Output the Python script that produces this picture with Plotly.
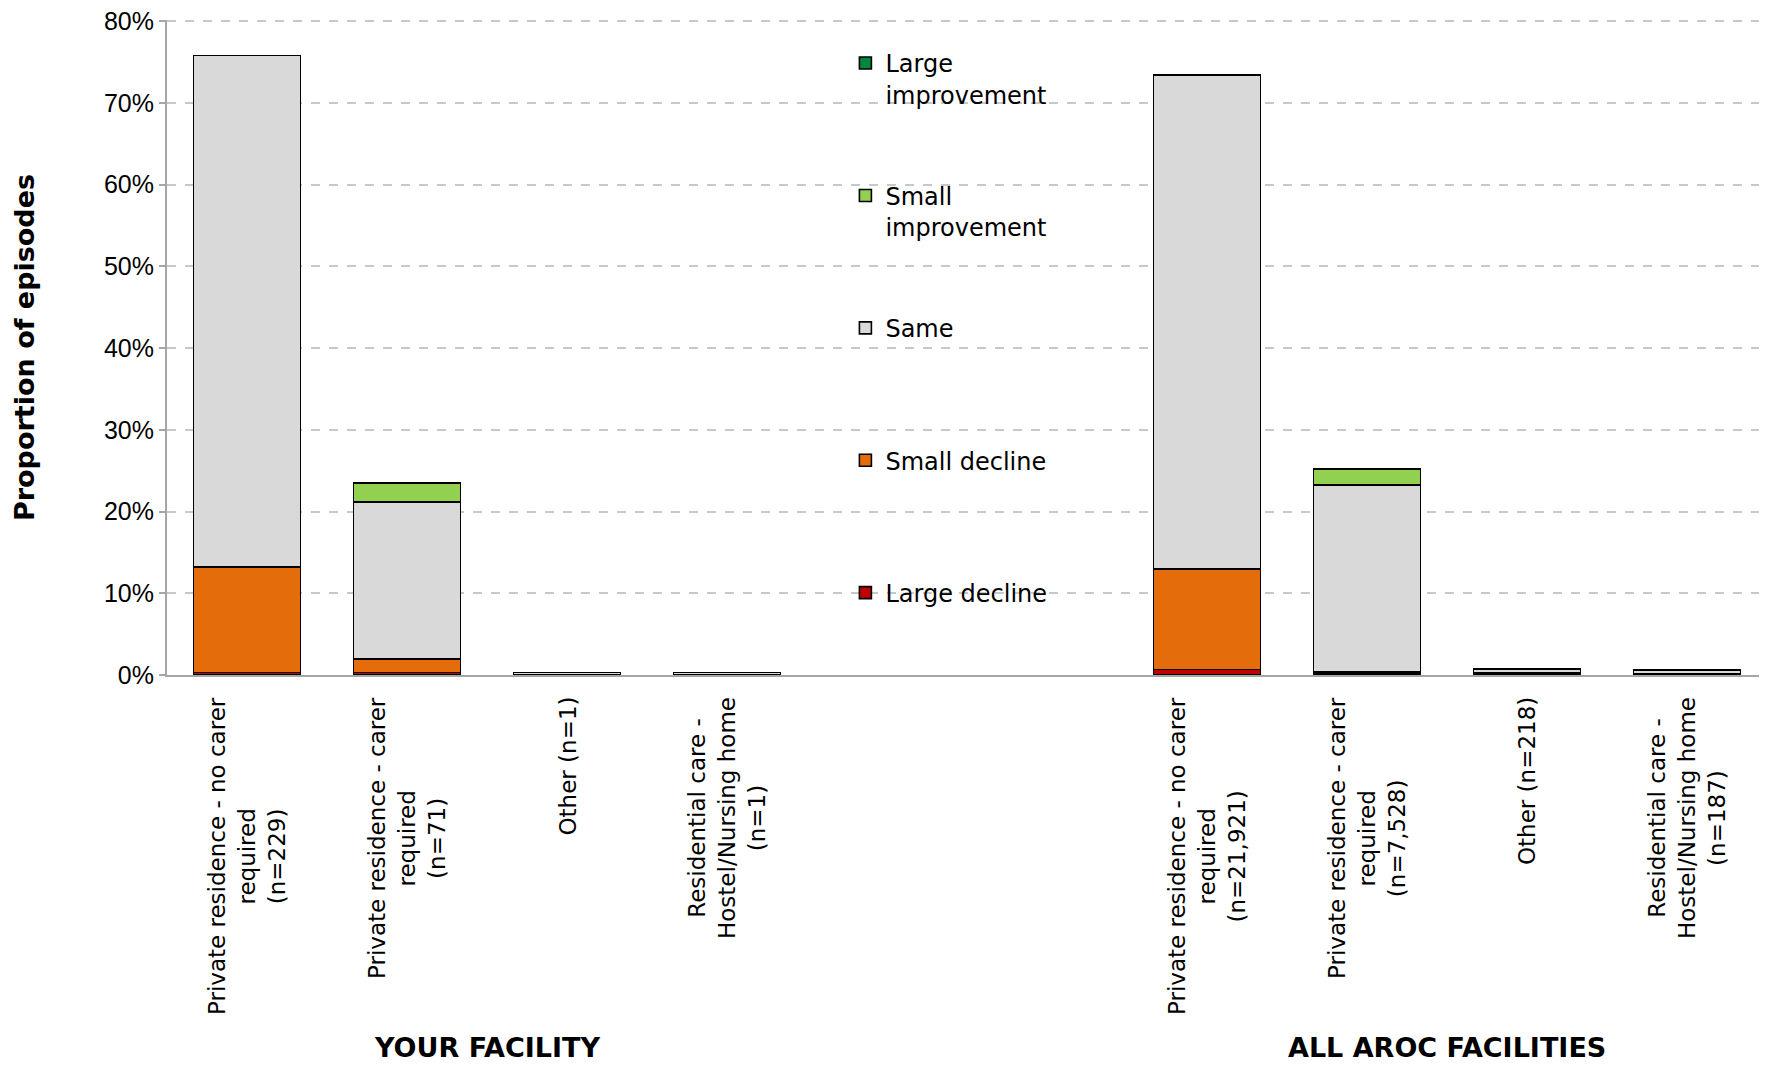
import plotly.graph_objects as go

# ---- data (percent of episodes) ----
categories = [
    "Private residence - no carer required (n=229)",
    "Private residence - carer required (n=71)",
    "Other (n=1)",
    "Residential care - Hostel/Nursing home (n=1)",
    " ",
    "  ",
    "Private residence - no carer required (n=21,921)",
    "Private residence - carer required (n=7,528)",
    "Other (n=218)",
    "Residential care - Hostel/Nursing home (n=187)",
]
tick_labels = [
    "Private residence - no carer<br>required<br>(n=229)",
    "Private residence - carer<br>required<br>(n=71)",
    "Other (n=1)",
    "Residential care -<br>Hostel/Nursing home<br>(n=1)",
    "",
    "",
    "Private residence - no carer<br>required<br>(n=21,921)",
    "Private residence - carer<br>required<br>(n=7,528)",
    "Other (n=218)",
    "Residential care -<br>Hostel/Nursing home<br>(n=187)",
]
large_decline = [0.33, 0.33, 0, 0, None, None, 0.65, 0.12, 0.12, 0.08]
small_decline = [12.91, 1.66, 0, 0, None, None, 12.30, 0.25, 0.12, 0.10]
same = [62.58, 19.21, 0.33, 0.33, None, None, 60.48, 22.88, 0.45, 0.42]
small_improvement = [0, 2.32, 0, 0, None, None, 0, 1.95, 0.04, 0.03]
large_improvement = [0, 0, 0, 0, None, None, 0, 0, 0, 0]

group_titles = ["YOUR FACILITY", "ALL AROC FACILITIES"]
y_ticks = [0, 10, 20, 30, 40, 50, 60, 70, 80]
y_tick_text = ["%d%%" % v for v in y_ticks]

# (name, values, colour, legend rank: top of legend first)
series = [
    ("Large decline", large_decline, "#C00000", 5),
    ("Small decline", small_decline, "#E46C0A", 4),
    ("Same", same, "#D9D9D9", 3),
    ("Small improvement", small_improvement, "#92D050", 2),
    ("Large improvement", large_improvement, "#00873C", 1),
]
legend_names = {
    "Large decline": "Large decline<br>\u00a0",
    "Small decline": "Small decline<br>\u00a0",
    "Same": "Same<br>\u00a0",
    "Small improvement": "Small<br>improvement",
    "Large improvement": "Large<br>improvement",
}

fig = go.Figure()
for name, vals, color, rank in series:
    fig.add_trace(go.Bar(
        x=categories, y=vals, name=legend_names[name], legendgroup=name,
        legendrank=rank,
        marker=dict(color=color, line=dict(color="#000000", width=1.6)),
    ))

TEXT_FONT = "DejaVu Sans"

# figure geometry (page has an 8px body margin)
W, H = 1759, 1058
plot_top, plot_bottom = 12, 667
left = 159


def py(pix):
    return (plot_bottom - pix) / (plot_bottom - plot_top)


annotations = []
for cat, lab in zip(categories, tick_labels):
    if not lab:
        continue
    annotations.append(dict(
        x=cat, xref="x", y=py(687), yref="paper", text=lab, textangle=-90,
        showarrow=False, xanchor="center", yanchor="top", align="center",
        font=dict(family=TEXT_FONT, size=23, color="#000000"),
    ))
for xc, t in zip([1.5, 7.5], group_titles):
    annotations.append(dict(
        x=xc, xref="x", y=py(1057), yref="paper", yanchor="bottom",
        text="<b>%s</b>" % t, showarrow=False,
        font=dict(family=TEXT_FONT, size=27, color="#000000"),
    ))

fig.update_layout(
    width=W, height=H,
    margin=dict(l=left, r=0, t=plot_top, b=H - plot_bottom),
    paper_bgcolor="white", plot_bgcolor="white",
    barmode="stack", bargap=0.33,
    showlegend=True,
    legend=dict(
        x=0.424, y=0.968, xanchor="left", yanchor="top",
        traceorder="grouped", tracegroupgap=67, valign="top",
        font=dict(family=TEXT_FONT, size=24, color="#000000"),
        bgcolor="rgba(0,0,0,0)",
    ),
    annotations=annotations,
    xaxis=dict(
        type="category", categoryorder="array", categoryarray=categories,
        showticklabels=False, showline=True, linecolor="#A6A6A6", linewidth=2,
        ticks="", showgrid=False, zeroline=False, range=[-0.5, 9.5],
    ),
    yaxis=dict(
        range=[0, 80.15], tickvals=y_ticks, ticktext=y_tick_text,
        ticklabeloverflow="allow",
        showgrid=True, gridcolor="#C8C8C8", gridwidth=1.5, griddash="dash",
        showline=True, linecolor="#A6A6A6", linewidth=2,
        ticks="outside", ticklen=6, tickcolor="#A6A6A6", tickwidth=2,
        zeroline=False,
        tickfont=dict(family="Liberation Sans", size=25, color="#000000"),
        title=dict(text="<b>Proportion of episodes</b>", standoff=62,
                   font=dict(family=TEXT_FONT, size=27, color="#000000")),
    ),
)

fig.write_html("out.html")
